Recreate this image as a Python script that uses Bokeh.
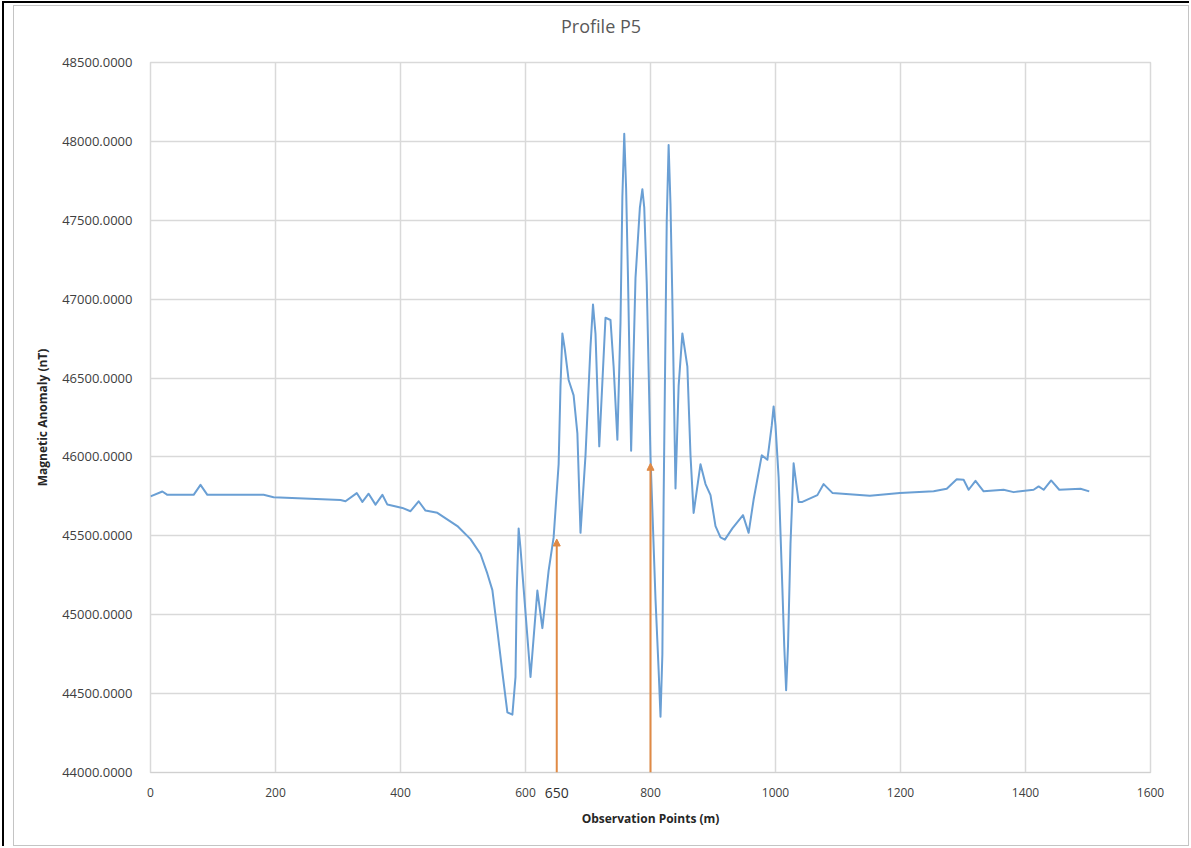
from bokeh.plotting import figure
from bokeh.models import (Range1d, FixedTicker, PrintfTickFormatter, Arrow, NormalHead,
                          ColumnDataSource, LinearAxis, Div)
from bokeh.layouts import column
from bokeh.embed import file_html
from bokeh.resources import INLINE

# ---- data ----
obs_x = [0, 19, 27, 69, 80, 91, 181, 197, 304, 312, 330, 339, 349, 360, 371, 379, 403, 416,
         429, 440, 459, 491, 512, 528, 539, 547, 555, 563, 571, 579, 584, 586, 589, 592, 597,
         608, 619, 627, 637, 645, 653, 656, 659, 663, 669, 677, 683, 688, 696, 704, 708, 712,
         718, 728, 736, 741, 747, 752, 755, 758, 761, 764, 769, 776, 783, 787, 790, 794, 800,
         808, 813, 816, 819, 821, 826, 829, 832, 835, 840, 845, 851, 859, 864,
         869, 880, 888, 896, 904, 912, 919, 931, 948, 957, 965, 978, 987, 994, 997, 1000,
         1005, 1011, 1014, 1017, 1020, 1024, 1029, 1037, 1043, 1067, 1077, 1091, 1151, 1199,
         1253, 1274, 1290, 1301, 1309, 1320, 1333, 1365, 1381, 1413, 1421, 1429, 1441, 1454,
         1488, 1502]
anomaly = [45750, 45781, 45760, 45760, 45823, 45760, 45760, 45745, 45727, 45719, 45771, 45715,
           45767, 45698, 45760, 45698, 45677, 45656, 45719, 45660, 45646, 45562, 45479, 45385,
           45260, 45156, 44900, 44634, 44381, 44367, 44605, 45150, 45547, 45420, 45167,
           44605, 45153, 44915, 45280, 45490, 45954, 46450, 46783, 46680, 46488, 46390, 46150,
           45519, 46010, 46700, 46966, 46780, 46067, 46882, 46868, 46572, 46109, 46853, 47650,
           48048, 47700, 47135, 46039, 47135, 47580, 47697, 47580, 47100, 46000,
           45100, 44650, 44353, 44750, 45730, 47500, 47977, 47600, 46994, 45800, 46450, 46783,
           46572, 46010, 45645, 45954, 45828, 45758, 45561, 45490, 45476, 45547, 45631, 45519,
           45730, 46010, 45982, 46200, 46320, 46200, 45870, 45167, 44800, 44521, 44800, 45449,
           45960, 45715, 45715, 45758, 45828, 45772, 45754, 45771, 45782, 45798, 45859, 45855,
           45792, 45849, 45782, 45792, 45777, 45792, 45813, 45792, 45851, 45792, 45798, 45782]

x_ticks = [0, 200, 400, 600, 800, 1000, 1200, 1400, 1600]
y_ticks = [44000, 44500, 45000, 45500, 46000, 46500, 47000, 47500, 48000, 48500]

arrow_x = [650, 800]
arrow_tip = [45480, 45960]
arrow_base = [44000, 44000]
marker_ticks = [650]
title_text = "Profile P5"

# ---- title ----
title_div = Div(text=title_text, width=1174, height=40, margin=0,
                styles={"font-family": "Open Sans", "font-size": "18px", "color": "#595959",
                        "text-align": "center", "line-height": "40px"})

# ---- figure ----
p = figure(width=1174, height=799, output_backend="svg", toolbar_location=None,
           x_range=Range1d(0, 1600), y_range=Range1d(44000, 48500),
           min_border_left=136, min_border_right=38, min_border_top=16, min_border_bottom=73)

p.outline_line_color = "#d9d9d9"
p.outline_line_width = 1.5

p.xaxis.ticker = FixedTicker(ticks=x_ticks)
p.yaxis.ticker = FixedTicker(ticks=y_ticks)
p.yaxis.formatter = PrintfTickFormatter(format="%.4f")
for ax in (p.xaxis, p.yaxis):
    ax.major_tick_line_color = None
    ax.minor_tick_line_color = None
    ax.major_label_text_font = "Open Sans"
    ax.major_label_text_color = "#404040"
    ax.axis_label_text_font = "Open Sans"
    ax.axis_label_text_font_size = "12px"
    ax.axis_label_text_font_style = "bold"
    ax.axis_label_text_color = "#262626"
p.xaxis.major_label_text_font_size = "12px"
p.yaxis.major_label_text_font_size = "13px"
p.xaxis.axis_line_color = "#d0d0d0"
p.yaxis.axis_line_color = None
p.xaxis.major_label_standoff = 9
p.yaxis.major_label_standoff = 12
p.yaxis.axis_label = "Magnetic Anomaly (nT)"
p.yaxis.axis_label_standoff = 8

# extra axis carrying the "650" marker label and the axis title
ax2 = LinearAxis(ticker=FixedTicker(ticks=marker_ticks), axis_line_color=None,
                 major_tick_line_color=None, minor_tick_line_color=None,
                 major_label_text_font="Open Sans", major_label_text_font_size="14px",
                 major_label_text_color="#303030", major_label_standoff=-18,
                 axis_label="Observation Points (m)", axis_label_text_font="Open Sans",
                 axis_label_text_font_size="12px", axis_label_text_font_style="bold",
                 axis_label_text_color="#262626", axis_label_standoff=9)
p.add_layout(ax2, "below")

p.xgrid.ticker = FixedTicker(ticks=x_ticks)
p.ygrid.ticker = FixedTicker(ticks=y_ticks)
p.grid.grid_line_color = "#d9d9d9"
p.grid.grid_line_width = 1.5

p.line(obs_x, anomaly, line_color="#6a9fd4", line_width=2, line_join="round")

src = ColumnDataSource(dict(x=arrow_x, y0=arrow_base, y1=arrow_tip))
p.add_layout(Arrow(source=src, x_start="x", y_start="y0", x_end="x", y_end="y1",
                   line_color="#e08a45", line_width=2,
                   end=NormalHead(size=7, fill_color="#e08a45", line_color="#e08a45")))

inner = column(title_div, p, styles={"border": "1px solid #c4c4c4"})
root = column(inner, styles={"border-left": "2px solid #000", "border-top": "2px solid #000",
                             "padding-left": "9px", "padding-top": "2px", "margin-left": "2px",
                             "margin-top": "1px"})

open("out.html", "w").write(file_html(root, INLINE))
